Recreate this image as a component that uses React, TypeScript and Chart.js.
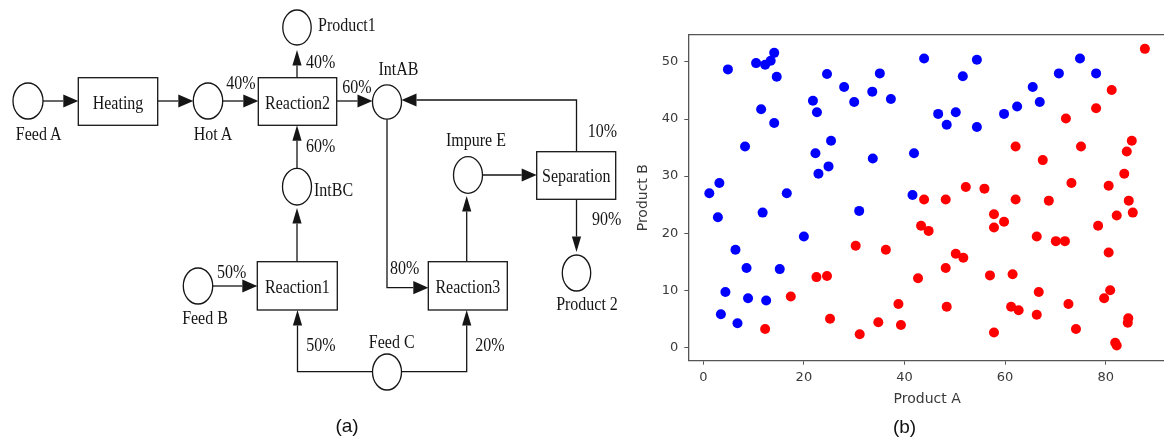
import React, { useEffect, useRef } from 'react';
import { Chart, registerables } from 'chart.js';

Chart.register(...registerables);

// ---------- Data (b) scatter ----------
const blueX = [1.2, 3.2, 4.9, 8.3, 10.5, 11.5, 12.3, 13.4, 14.1, 14.1, 14.6, 16.6, 21.8, 22.6, 24.6, 25.4, 22.3, 22.9, 24.9, 28.0, 30.0, 33.6, 33.7, 35.1, 37.3, 43.9, 41.9, 41.6, 46.7, 48.4, 50.2, 51.6, 54.4, 54.4, 59.8, 62.4, 65.5, 66.9, 70.7, 74.9, 78.1, 2.9, 11.8, 31.0, 20.0, 6.4, 8.6, 15.2, 4.4, 8.9, 12.5, 3.5, 6.8];
const blueY = [27.0, 28.8, 48.7, 35.2, 49.8, 41.7, 49.5, 50.2, 51.6, 39.3, 47.4, 27.0, 43.2, 41.2, 47.9, 36.2, 34.0, 30.4, 31.7, 45.6, 43.0, 44.8, 33.1, 48.0, 43.5, 50.6, 34.0, 26.7, 40.9, 39.0, 41.2, 47.5, 50.4, 38.6, 40.9, 42.2, 45.6, 43.0, 48.0, 50.6, 48.0, 22.8, 23.6, 23.9, 19.4, 17.1, 13.9, 13.7, 9.7, 8.6, 8.2, 5.8, 4.2];

const redX = [81.2, 78.1, 72.1, 62.1, 75.1, 67.5, 85.2, 84.2, 83.7, 73.2, 80.6, 52.2, 55.9, 43.9, 48.2, 62.1, 68.7, 84.6, 87.8, 85.4, 82.2, 78.5, 80.6, 80.9, 79.7, 84.5, 84.4, 81.9, 82.2, 74.1, 72.6, 66.3, 66.7, 61.5, 57.0, 61.2, 62.7, 57.8, 66.3, 70.1, 71.9, 57.8, 59.8, 57.8, 43.3, 44.8, 36.3, 50.2, 51.7, 48.2, 42.7, 38.8, 48.4, 34.8, 39.3, 30.3, 22.5, 24.6, 17.4, 25.2, 12.3, 31.1];
const redY = [45.1, 41.9, 40.1, 35.2, 35.2, 32.8, 36.2, 34.3, 30.4, 28.8, 28.3, 28.1, 27.8, 25.9, 25.9, 25.9, 25.7, 25.7, 52.3, 23.6, 23.1, 21.3, 16.6, 10.0, 8.6, 5.1, 4.3, 0.8, 0.3, 3.2, 7.6, 5.7, 9.7, 12.8, 12.6, 7.1, 6.5, 2.6, 19.4, 18.6, 18.6, 23.3, 22.0, 21.0, 21.3, 20.4, 17.1, 16.4, 15.7, 13.9, 12.1, 7.6, 7.1, 4.4, 3.9, 17.8, 12.3, 12.5, 8.9, 5.0, 3.2, 2.3];

const xTicks = [0, 20, 40, 60, 80];
const yTicks = [0, 10, 20, 30, 40, 50];
const xTitle = 'Product A';
const yTitle = 'Product B';

const AXIS = '#555555';
const TICK = '#3a3a3a';

function ScatterChart() {
  const ref = useRef<HTMLCanvasElement | null>(null);
  useEffect(() => {
    const frame = {
      id: 'frameTop',
      afterDraw(c: any) {
        const { ctx, chartArea: a } = c;
        ctx.save();
        ctx.strokeStyle = AXIS;
        ctx.lineWidth = 1.3;
        ctx.beginPath();
        ctx.moveTo(a.left, a.top);
        ctx.lineTo(a.right, a.top);
        ctx.stroke();
        ctx.restore();
      },
    };
    const chart = new Chart(ref.current as HTMLCanvasElement, {
      type: 'scatter',
      data: {
        datasets: [
          {
            label: 'red',
            data: redX.map((x, i) => ({ x, y: redY[i] })),
            backgroundColor: '#ff0000',
            borderColor: '#ff0000',
            borderWidth: 0,
            pointRadius: 5,
          },
          {
            label: 'blue',
            data: blueX.map((x, i) => ({ x, y: blueY[i] })),
            backgroundColor: '#0000ff',
            borderColor: '#0000ff',
            borderWidth: 0,
            pointRadius: 5,
          },
        ],
      },
      options: {
        responsive: false,
        animation: false,
        events: [],
        plugins: { legend: { display: false }, tooltip: { enabled: false } },
        layout: { padding: { top: 34.7, right: 14, bottom: 0, left: 0 } },
        scales: {
          x: {
            type: 'linear',
            min: -2.98,
            max: 92.0,
            afterBuildTicks: (s: any) => { s.ticks = xTicks.map((v) => ({ value: v })); },
            afterFit: (s: any) => { s.height = 439 - 360.7; },
            grid: { display: true, drawOnChartArea: false, drawTicks: true, tickLength: 4, color: AXIS, lineWidth: 1 },
            border: { display: true, color: AXIS, width: 1.3 },
            ticks: { color: TICK, font: { family: 'DejaVu Sans', size: 13 }, padding: 5, maxRotation: 0, autoSkip: false },
            title: { display: true, text: xTitle, color: TICK, font: { family: 'DejaVu Sans', size: 14 }, padding: { top: 0, bottom: 31.6 } },
          },
          y: {
            type: 'linear',
            min: -2.35,
            max: 54.78,
            afterBuildTicks: (s: any) => { s.ticks = yTicks.map((v) => ({ value: v })); },
            afterFit: (s: any) => { s.width = 688.3 - 620; },
            grid: { display: true, drawOnChartArea: false, drawTicks: true, tickLength: 4, color: AXIS, lineWidth: 1 },
            border: { display: true, color: AXIS, width: 1.3 },
            ticks: { color: TICK, font: { family: 'DejaVu Sans', size: 13 }, padding: 6, autoSkip: false },
            title: { display: true, text: yTitle, color: TICK, font: { family: 'DejaVu Sans', size: 14 }, padding: { top: 14.6, bottom: 0 } },
          },
        },
      },
      plugins: [frame],
    });
    return () => chart.destroy();
  }, []);
  return (
    <canvas
      ref={ref}
      width={560}
      height={439}
      style={{ position: 'absolute', left: 620, top: 0, width: 560, height: 439, display: 'block' }}
    />
  );
}

// ---------- Diagram (a) ----------
const SERIF = "'Liberation Serif', 'Times New Roman', serif";
const INK = '#151515';

function Txt({ x, y, t, anchor = 'middle', size = 16 }: { x: number; y: number; t: string; anchor?: string; size?: number }) {
  return (
    <text
      transform={`translate(${x},${y}) scale(1,1.13)`}
      textAnchor={anchor as any}
      fontFamily={SERIF}
      fontSize={size}
      fill={INK}
    >
      {t}
    </text>
  );
}

function Node({ cx, cy, rx, ry }: { cx: number; cy: number; rx: number; ry: number }) {
  return <ellipse cx={cx} cy={cy} rx={rx} ry={ry} fill="white" stroke={INK} strokeWidth={1.3} />;
}

function Box({ x1, y1, x2, y2 }: { x1: number; y1: number; x2: number; y2: number }) {
  return <rect x={x1} y={y1} width={x2 - x1} height={y2 - y1} fill="white" stroke={INK} strokeWidth={1.3} />;
}

function Arrow({ pts }: { pts: number[][] }) {
  const n = pts.length;
  const [ex, ey] = pts[n - 1];
  const [px, py] = pts[n - 2];
  const dx = ex - px;
  const dy = ey - py;
  const len = Math.hypot(dx, dy);
  const ux = dx / len;
  const uy = dy / len;
  const horizontal = Math.abs(ux) > Math.abs(uy);
  const L = horizontal ? 15 : 15.5;
  const W = horizontal ? 6.6 : 4.6;
  const bx = ex - ux * L;
  const by = ey - uy * L;
  const line = pts.slice(0, n - 1).concat([[bx, by]]);
  const head = `${ex},${ey} ${bx - uy * W},${by + ux * W} ${bx + uy * W},${by - ux * W}`;
  return (
    <g>
      <polyline points={line.map((p) => p.join(',')).join(' ')} fill="none" stroke={INK} strokeWidth={1.3} />
      <polygon points={head} fill={INK} />
    </g>
  );
}

function Diagram() {
  return (
    <svg
      width={1164}
      height={439}
      style={{ position: 'absolute', left: 0, top: 0, pointerEvents: 'none' }}
    >
      {/* arrows */}
      <Arrow pts={[[43, 101], [78.3, 101]]} />
      <Arrow pts={[[157.7, 101], [193.3, 101]]} />
      <Arrow pts={[[222.7, 101], [258.3, 101]]} />
      <Arrow pts={[[297, 77.7], [297, 50]]} />
      <Arrow pts={[[297, 168.4], [297, 125.3]]} />
      <Arrow pts={[[297, 261.7], [297, 208]]} />
      <Arrow pts={[[212.7, 286], [257.3, 286]]} />
      <Arrow pts={[[372.5, 371.7], [297.5, 371.7], [297.5, 310]]} />
      <Arrow pts={[[401.5, 371.7], [466.7, 371.7], [466.7, 310]]} />
      <Arrow pts={[[336.7, 101], [372.5, 101]]} />
      <Arrow pts={[[387, 119.2], [387, 287.7], [428.3, 287.7]]} />
      <Arrow pts={[[466.7, 261.7], [466.7, 196]]} />
      <Arrow pts={[[482.3, 175], [536.7, 175]]} />
      <Arrow pts={[[576.5, 151.7], [576.5, 100], [401.5, 100]]} />
      <Arrow pts={[[576.5, 199.3], [576.5, 252]]} />

      {/* boxes */}
      <Box x1={78.3} y1={77.7} x2={157.7} y2={125.3} />
      <Box x1={258.3} y1={77.7} x2={336.7} y2={125.3} />
      <Box x1={257.3} y1={261.7} x2={337.3} y2={310} />
      <Box x1={428.3} y1={261.7} x2={507.3} y2={310} />
      <Box x1={536.7} y1={151.7} x2={615.7} y2={199.3} />

      {/* nodes */}
      <Node cx={28} cy={101} rx={15} ry={18} />
      <Node cx={208} cy={101} rx={14.7} ry={18} />
      <Node cx={297} cy={27.5} rx={14.2} ry={17.5} />
      <Node cx={297} cy={186.7} rx={14.5} ry={18.3} />
      <Node cx={198} cy={286} rx={14.7} ry={18} />
      <Node cx={387} cy={372} rx={14.5} ry={18} />
      <Node cx={387} cy={102} rx={14.5} ry={17.2} />
      <Node cx={468} cy={175} rx={14.5} ry={18.3} />
      <Node cx={576.5} cy={273} rx={14.2} ry={18} />

      {/* texts */}
      <Txt x={118} y={108.5} t="Heating" />
      <Txt x={297.5} y={108.5} t="Reaction2" />
      <Txt x={297.3} y={292.5} t="Reaction1" />
      <Txt x={467.8} y={292.5} t="Reaction3" />
      <Txt x={576.2} y={181.5} t="Separation" />

      <Txt x={38.7} y={139.5} t="Feed A" />
      <Txt x={213} y={139.5} t="Hot A" />
      <Txt x={318} y={31} t="Product1" anchor="start" />
      <Txt x={306} y={68} t="40%" anchor="start" />
      <Txt x={241} y={89} t="40%" />
      <Txt x={306} y={151.5} t="60%" anchor="start" />
      <Txt x={314} y={196} t="IntBC" anchor="start" />
      <Txt x={398.5} y={75} t="IntAB" />
      <Txt x={357} y={93} t="60%" />
      <Txt x={476} y={146} t="Impure E" />
      <Txt x={602.5} y={136.5} t="10%" />
      <Txt x={606.7} y={225} t="90%" />
      <Txt x={587} y={310} t="Product 2" />
      <Txt x={205} y={323.5} t="Feed B" />
      <Txt x={231.7} y={278} t="50%" />
      <Txt x={320.8} y={351} t="50%" />
      <Txt x={391.7} y={348} t="Feed C" />
      <Txt x={490} y={351} t="20%" />
      <Txt x={404.7} y={274} t="80%" />

      {/* panel captions */}
      <text x={347} y={425} textAnchor="middle" dominantBaseline="central" fontFamily="'Liberation Sans', Arial, sans-serif" fontSize={19} fill="#111">(a)</text>
      <text x={904.5} y={426} textAnchor="middle" dominantBaseline="central" fontFamily="'Liberation Sans', Arial, sans-serif" fontSize={19} fill="#111">(b)</text>
    </svg>
  );
}

export default function App() {
  return (
    <div style={{ position: 'absolute', left: 0, top: 0, width: 1164, height: 439, background: 'white', overflow: 'hidden' }}>
      <ScatterChart />
      <Diagram />
    </div>
  );
}
